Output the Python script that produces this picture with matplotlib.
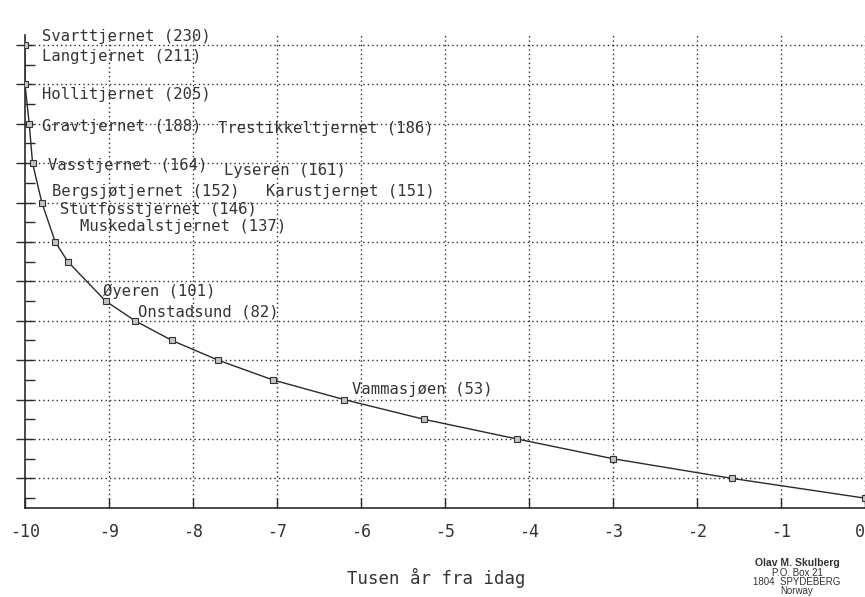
import matplotlib
matplotlib.use("Agg")
import matplotlib.pyplot as plt
from matplotlib.ticker import FixedLocator
import matplotlib.transforms as mtransforms

# ---- data ----
years = [-10, -10, -9.95, -9.91, -9.80, -9.64, -9.49, -9.04, -8.69, -8.25,
         -7.70, -7.05, -6.20, -5.25, -4.14, -3.00, -1.58, 0]
heights = [230, 210, 190, 170, 150, 130, 120, 100, 90, 80,
           70, 60, 50, 40, 30, 20, 10, 0]

lake_names = ["Svarttjernet", "Langtjernet", "Hollitjernet", "Gravtjernet",
              "Trestikkeltjernet", "Vasstjernet", "Lyseren", "Bergsjøtjernet",
              "Karustjernet", "Stutfosstjernet", "Muskedalstjernet", "Øyeren",
              "Onstadsund", "Vammasjøen"]
lake_heights = [230, 211, 205, 188, 186, 164, 161, 152, 151, 146, 137, 101, 82, 53]
# label anchor positions (x in kyr, y in m)
label_pos = [(-9.80, 234), (-9.80, 224), (-9.80, 205), (-9.80, 188.8),
             (-7.70, 187.8), (-9.73, 169), (-7.63, 166), (-9.68, 155.8),
             (-7.13, 155.8), (-9.58, 146.7), (-9.35, 137.6), (-9.07, 105),
             (-8.65, 94.4), (-6.11, 54.9)]

xticks = list(range(-10, 1))
xtick_labels = ["-10", "-9", "-8", "-7", "-6", "-5", "-4", "-3", "-2", "-1", "0"]
grid_heights = list(range(10, 240, 20))
minor_heights = list(range(0, 230, 20))

xlabel = "Tusen år fra idag"
signature = ["Olav M. Skulberg", "P.O. Box 21", "1804  SPYDEBERG", "Norway"]

# ---- figure ----
fig = plt.figure(figsize=(8.65, 5.97), dpi=100)
ax = fig.add_axes([25 / 865, 1 - 508 / 597, 840 / 865, (508 - 35) / 597])

ink = "#2a2a2a"
txt = "#333333"
ax.set_xlim(-10, 0)
ax.set_ylim(-5, 235)

# grid
for g in grid_heights:
    ax.axhline(g, color=ink, lw=1.0, ls=(0, (1, 2.2)), zorder=1)
for t in xticks[1:]:
    ax.axvline(t, color=ink, lw=1.0, ls=(0, (1, 2.2)), zorder=1)

ax.plot(years, heights, color=ink, lw=1.0, zorder=3)
ax.plot(years, heights, ls="none", marker="s", ms=4, mfc="#c4c4c4",
        mec="#333333", mew=0.8, zorder=4)

mono = "DejaVu Sans Mono"
for name, h, (lx, ly) in zip(lake_names, lake_heights, label_pos):
    ax.text(lx, ly, f"{name} ({h})", family=mono, fontsize=11.2, color=txt,
            va="center", ha="left", zorder=5)

# spines
for s in ["top", "right"]:
    ax.spines[s].set_visible(False)
for s in ["left", "bottom"]:
    ax.spines[s].set_color(ink)
    ax.spines[s].set_linewidth(1.2)

ax.xaxis.set_major_locator(FixedLocator(xticks))
ax.set_xticklabels(xtick_labels, family=mono, fontsize=12, color=txt)
ax.tick_params(axis="x", direction="in", length=7, width=1.0, color=ink, pad=11)
# keep the last label ("0") inside the figure
last = ax.get_xticklabels()[-1]
last.set_transform(last.get_transform() +
                   mtransforms.ScaledTranslation(-5 / 100, 0, fig.dpi_scale_trans))

ax.yaxis.set_major_locator(FixedLocator(grid_heights))
ax.yaxis.set_minor_locator(FixedLocator(minor_heights))
ax.set_yticklabels([])
ax.tick_params(axis="y", which="major", direction="inout", length=13, width=1.0, color=ink)
ax.tick_params(axis="y", which="minor", direction="in", length=7, width=1.0, color=ink)

fig.text(436 / 865, 1 - 578 / 597, xlabel, family=mono, fontsize=12.5,
         color=txt, ha="center", va="center")

sig_y = [563, 573, 582, 591]
for i, (line, y) in enumerate(zip(signature, sig_y)):
    fig.text(797 / 865, 1 - y / 597, line, family="Liberation Sans",
             fontsize=7.5 if i == 0 else 7, weight="bold" if i == 0 else "normal",
             color=txt, ha="center", va="center")

fig.savefig("out.png", dpi=100)
